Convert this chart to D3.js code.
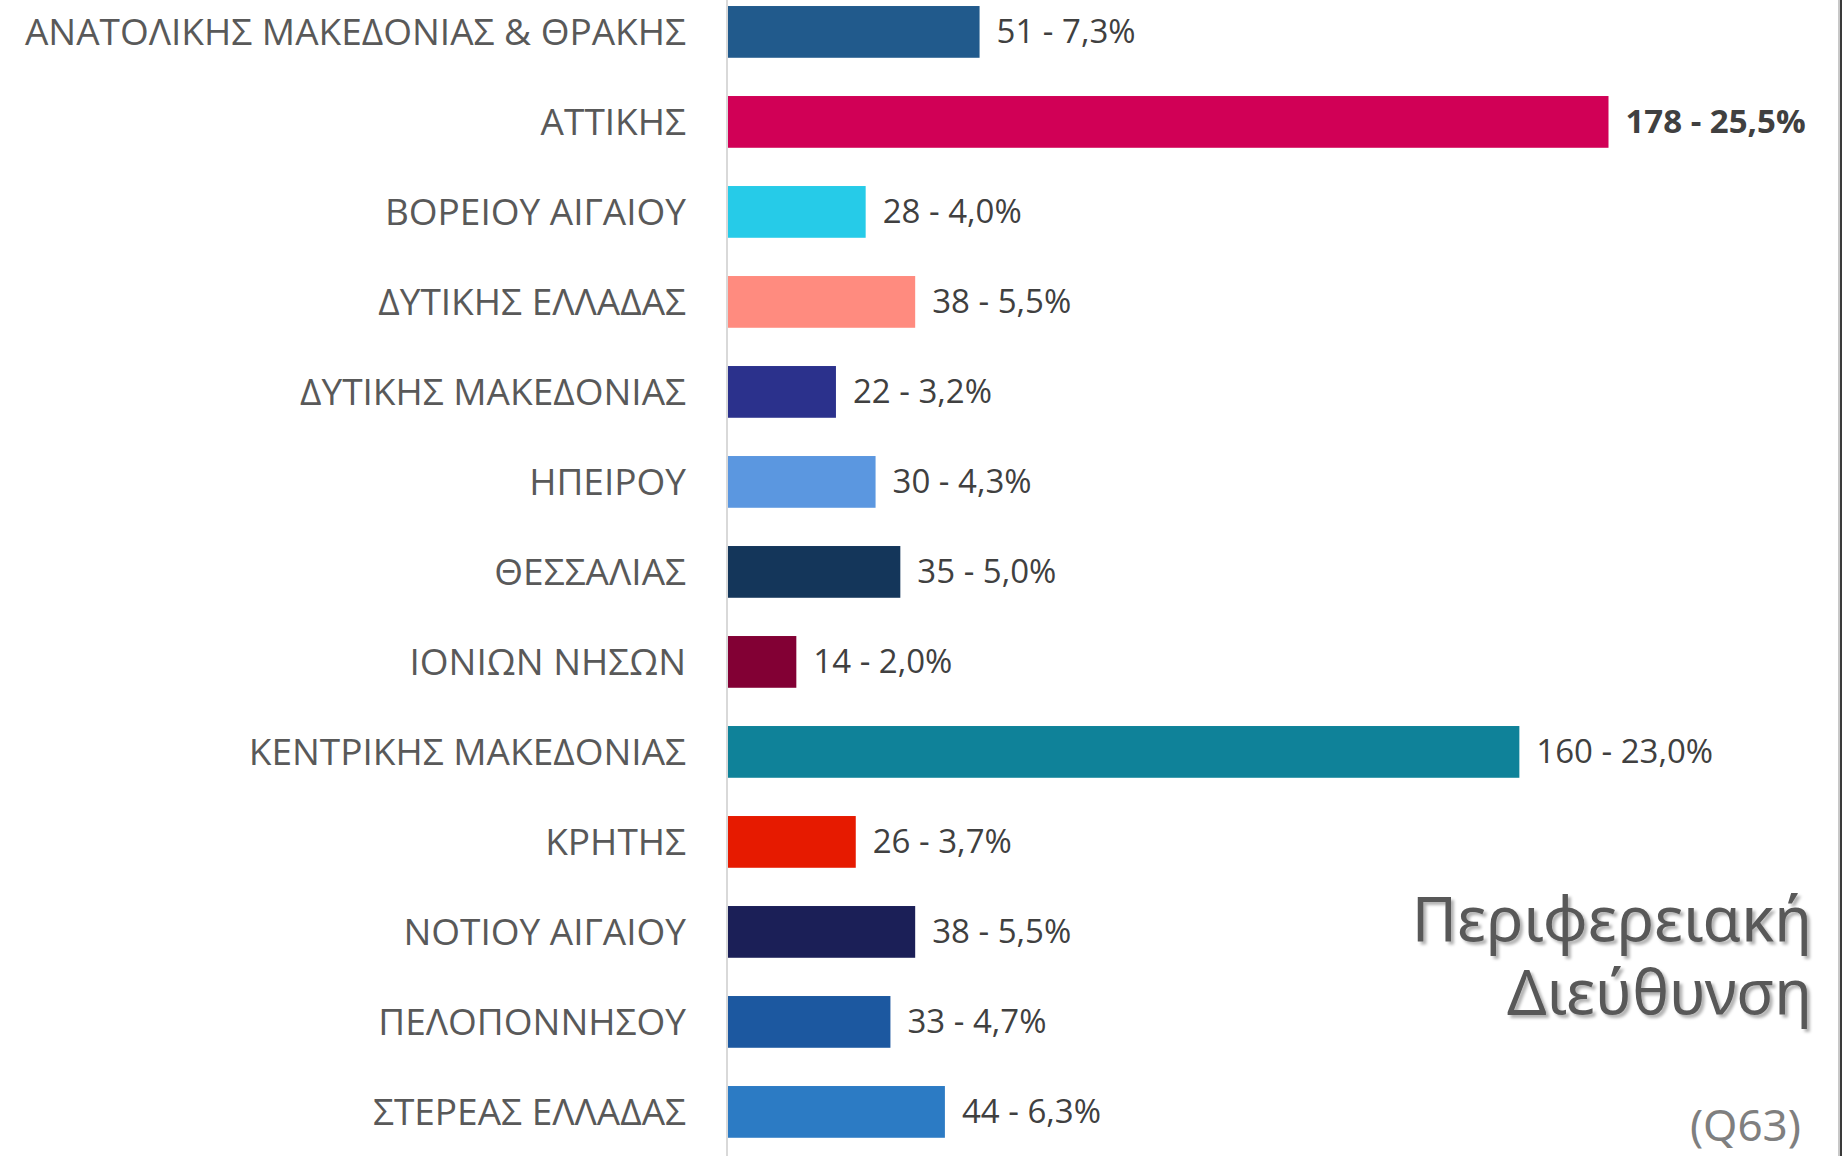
<!DOCTYPE html>
<html>
<head>
<meta charset="utf-8">
<script src="https://cdn.jsdelivr.net/npm/d3@7"></script>
<style>
  body { margin: 0; background: #fff; }
  svg { display: block; }
</style>
</head>
<body>
<svg width="1845" height="1156"></svg>
<script>
/* global d3 */
var regions = [
  'ΑΝΑΤΟΛΙΚΗΣ ΜΑΚΕΔΟΝΙΑΣ & ΘΡΑΚΗΣ', 'ΑΤΤΙΚΗΣ', 'ΒΟΡΕΙΟΥ ΑΙΓΑΙΟΥ', 'ΔΥΤΙΚΗΣ ΕΛΛΑΔΑΣ',
  'ΔΥΤΙΚΗΣ ΜΑΚΕΔΟΝΙΑΣ', 'ΗΠΕΙΡΟΥ', 'ΘΕΣΣΑΛΙΑΣ', 'ΙΟΝΙΩΝ ΝΗΣΩΝ', 'ΚΕΝΤΡΙΚΗΣ ΜΑΚΕΔΟΝΙΑΣ',
  'ΚΡΗΤΗΣ', 'ΝΟΤΙΟΥ ΑΙΓΑΙΟΥ', 'ΠΕΛΟΠΟΝΝΗΣΟΥ', 'ΣΤΕΡΕΑΣ ΕΛΛΑΔΑΣ'
]
var counts = [51, 178, 28, 38, 22, 30, 35, 14, 160, 26, 38, 33, 44]
var percents = ['7,3%', '25,5%', '4,0%', '5,5%', '3,2%', '4,3%', '5,0%', '2,0%', '23,0%', '3,7%', '5,5%', '4,7%', '6,3%']
var colors = ['#215a8c', '#d10056', '#26cbe8', '#ff8b7f', '#2b318c', '#5b97e0', '#14365a',
  '#820034', '#0f8299', '#e61a00', '#1b1f57', '#1c58a0', '#2c7bc4']
var titleLines = ['Περιφερειακή', 'Διεύθυνση']
var note = '(Q63)'

var svg = d3.select('svg')
var width = +svg.attr('width')
var height = +svg.attr('height')

var rows = regions.map(function (r, i) {
  return { region: r, count: counts[i], pct: percents[i], color: colors[i] }
})

var x = d3.scaleLinear()
    .domain([0, 178])
    .range([727, 1608.5])

var y = d3.scaleBand()
    .domain(regions)
    .range([-13.1, 1156.9])
    .paddingInner(0.425)
    .paddingOuter(0.2125)

var defs = svg.append('defs')
var shadow = defs.append('filter')
    .attr('id', 'shadow')
    .attr('x', '-10%').attr('y', '-20%')
    .attr('width', '130%').attr('height', '150%')
shadow.append('feDropShadow')
    .attr('dx', 3).attr('dy', 3)
    .attr('stdDeviation', 1.5)
    .attr('flood-color', '#000')
    .attr('flood-opacity', 0.3)

// axis line
svg.append('line')
    .attr('x1', x(0)).attr('x2', x(0))
    .attr('y1', 0).attr('y2', height)
    .attr('stroke', '#d9d9d9')
    .attr('stroke-width', 2)

svg.append('g')
    .attr('class', 'bars')
  .selectAll('rect')
  .data(rows)
  .enter().append('rect')
    .attr('x', x(0) + 1)
    .attr('y', d => y(d.region))
    .attr('width', d => x(d.count) - x(0) - 1)
    .attr('height', y.bandwidth())
    .attr('fill', d => d.color)

svg.append('g')
    .attr('class', 'labels')
  .selectAll('text')
  .data(rows)
  .enter().append('text')
    .attr('x', x(0) - 41)
    .attr('y', d => y(d.region) + y.bandwidth() / 2)
    .attr('dy', '0.35em')
    .attr('text-anchor', 'end')
    .attr('font-family', '"Open Sans", sans-serif')
    .attr('font-size', 37)
    .attr('fill', '#595959')
    .text(d => d.region)

svg.append('g')
    .attr('class', 'values')
  .selectAll('text')
  .data(rows)
  .enter().append('text')
    .attr('x', d => x(d.count) + 17)
    .attr('y', d => y(d.region) + y.bandwidth() / 2)
    .attr('dy', '0.35em')
    .attr('font-family', '"Open Sans", sans-serif')
    .attr('font-size', 33)
    .attr('font-weight', d => d.count === d3.max(counts) ? 700 : 400)
    .attr('fill', '#404040')
    .text(d => d.count + ' - ' + d.pct)

// title, one text with two lines
svg.append('text')
    .attr('filter', 'url(#shadow)')
    .attr('text-anchor', 'end')
    .attr('font-family', '"Noto Sans", sans-serif')
    .attr('font-size', 62)
    .attr('fill', '#595959')
  .selectAll('tspan')
  .data(titleLines)
  .enter().append('tspan')
    .attr('x', 1812)
    .attr('y', (d, i) => 941 + i * 73)
    .text(d => d)

svg.append('text')
    .attr('x', 1801)
    .attr('y', 1141)
    .attr('text-anchor', 'end')
    .attr('font-family', '"Noto Sans", sans-serif')
    .attr('font-size', 44)
    .attr('fill', '#7f7f7f')
    .text(note)

// right frame edge
svg.append('line')
    .attr('x1', width - 6).attr('x2', width - 6)
    .attr('y1', 0).attr('y2', height)
    .attr('stroke', '#c8c8c8')
    .attr('stroke-width', 2)
svg.append('line')
    .attr('x1', width - 4).attr('x2', width - 4)
    .attr('y1', 0).attr('y2', height)
    .attr('stroke', '#3a3a3a')
    .attr('stroke-width', 2)
</script>
</body>
</html>
